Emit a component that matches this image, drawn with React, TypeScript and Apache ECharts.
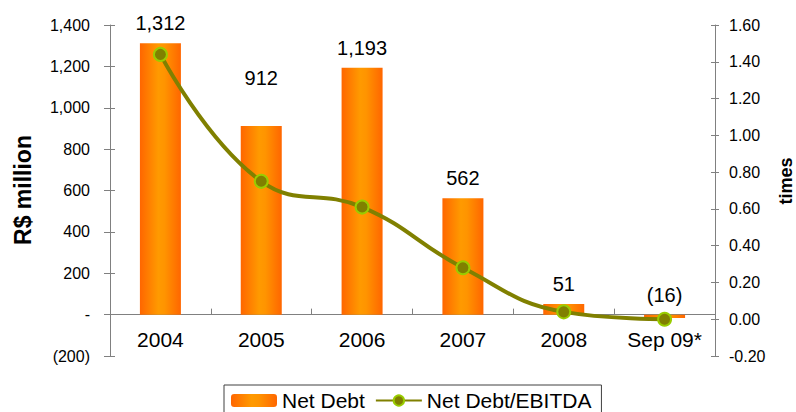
import React, { useEffect, useRef } from "react";
import * as echarts from "echarts";

const categories = ["2004", "2005", "2006", "2007", "2008", "Sep 09*"];
const netDebt = [1312, 912, 1193, 562, 51, -16];
const netDebtEbitda = [1.44, 0.75, 0.61, 0.28, 0.04, 0.0];
const leftTicks = { min: -200, max: 1400, interval: 200 };
const rightTicks = { min: -0.2, max: 1.6, interval: 0.2 };

const FONT = "'Liberation Sans', Arial, sans-serif";

const fmtDebt = (v: number) =>
  v === 0 ? "-" : v < 0 ? `(${Math.abs(v).toLocaleString("en-US")})` : v.toLocaleString("en-US");

export default function App() {
  const ref = useRef<HTMLDivElement>(null);
  useEffect(() => {
    if (!ref.current) return;
    const chart = echarts.init(ref.current, undefined, { renderer: "svg" });
    const barGrad = new echarts.graphic.LinearGradient(0, 0, 1, 0, [
      { offset: 0, color: "#FF6600" },
      { offset: 0.45, color: "#FF9A00" },
      { offset: 0.6, color: "#FF9400" },
      { offset: 1, color: "#FF6600" },
    ]);
    const axisColor = "#808080";
    const barData = netDebt.map((v, i) => ({
      value: v,
      label: i === 1 ? { distance: 38 } : undefined,
    }));
    chart.setOption({
      animation: false,
      textStyle: { fontFamily: FONT },
      grid: { left: 110, right: 81, top: 25, bottom: 56, containLabel: false },
      legend: {
        top: 385,
        left: 224,
        itemWidth: 46,
        itemHeight: 13,
        itemGap: 10,
        padding: [5, 10, 5, 7],
        borderColor: "#404040",
        borderWidth: 1,
        selectedMode: false,
        textStyle: { fontSize: 21, color: "#000", fontFamily: FONT },
        data: ["Net Debt", "Net Debt/EBITDA"],
      },
      xAxis: {
        type: "category",
        data: categories,
        axisLine: { onZero: true, onZeroAxisIndex: 0, lineStyle: { color: axisColor, width: 1 } },
        axisTick: { show: true, inside: true, length: 6, lineStyle: { color: axisColor } },
        axisLabel: { fontSize: 21, color: "#000", margin: -27, fontFamily: FONT },
        splitLine: { show: false },
      },
      yAxis: [
        {
          type: "value",
          position: "left",
          ...leftTicks,
          axisLine: { show: true, lineStyle: { color: axisColor } },
          axisTick: { show: true, length: 6, lineStyle: { color: axisColor } },
          axisLabel: { fontSize: 16, color: "#000", margin: 20, formatter: fmtDebt, fontFamily: FONT },
          splitLine: { show: false },
        },
        {
          type: "value",
          position: "right",
          ...rightTicks,
          axisLine: { show: true, lineStyle: { color: axisColor } },
          axisTick: { show: true, length: 4, lineStyle: { color: axisColor } },
          axisLabel: {
            fontSize: 16,
            color: "#000",
            margin: 14,
            formatter: (v: number) => v.toFixed(2),
            fontFamily: FONT,
          },
          splitLine: { show: false },
        },
        {
          type: "value",
          position: "left",
          ...leftTicks,
          axisLine: { show: false },
          axisTick: { show: true, inside: true, length: 5, lineStyle: { color: axisColor } },
          axisLabel: { show: false },
          splitLine: { show: false },
        },
        {
          type: "value",
          position: "right",
          ...rightTicks,
          axisLine: { show: false },
          axisTick: { show: true, inside: true, length: 4, lineStyle: { color: axisColor } },
          axisLabel: { show: false },
          splitLine: { show: false },
        },
      ],
      graphic: [
        {
          type: "text",
          x: 23,
          y: 190,
          rotation: Math.PI / 2,
          style: {
            text: "R$ million",
            fontSize: 23,
            fontWeight: "bold",
            fontFamily: FONT,
            fill: "#000",
            textAlign: "center",
            textVerticalAlign: "middle",
          },
        },
        {
          type: "text",
          x: 786,
          y: 181,
          rotation: Math.PI / 2,
          style: {
            text: "times",
            fontSize: 18,
            fontWeight: "bold",
            fontFamily: FONT,
            fill: "#000",
            textAlign: "center",
            textVerticalAlign: "middle",
          },
        },
      ],
      series: [
        {
          name: "Net Debt",
          type: "bar",
          yAxisIndex: 0,
          barWidth: 41,
          data: barData,
          itemStyle: { color: barGrad },
          label: {
            show: true,
            position: "top",
            distance: 10,
            fontSize: 20,
            color: "#000",
            fontFamily: FONT,
            formatter: (p: any) => fmtDebt(p.value),
          },
        },
        {
          name: "Net Debt/EBITDA",
          type: "line",
          yAxisIndex: 1,
          data: netDebtEbitda,
          smooth: 0.45,
          symbol: "circle",
          symbolSize: 13,
          lineStyle: { color: "#808000", width: 4 },
          itemStyle: { color: "#808000", borderColor: "#99CC00", borderWidth: 2 },
          z: 5,
        },
      ],
    });
    return () => chart.dispose();
  }, []);
  return (
    <div
      ref={ref}
      style={{ position: "absolute", left: 0, top: 0, width: 796, height: 412, background: "#fff" }}
    />
  );
}
